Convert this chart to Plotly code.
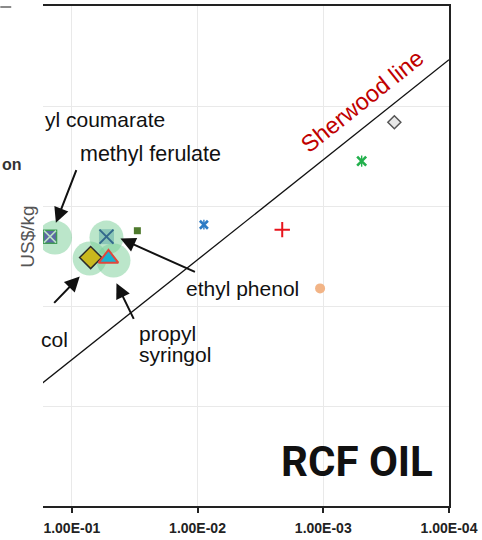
import plotly.graph_objects as go

# Product concentration in RCF oil (mass fraction) vs. market price (US$/kg)
compounds = ["methyl ferulate", "ethyl phenol", "propyl guaiacol", "propyl syringol",
             "compound 5", "compound 6", "compound 7", "compound 8",
             "compound 9", "compound 10"]
concentration = [0.149, 0.053, 0.0708, 0.0511, 0.0301, 0.0089, 0.00212, 0.00106, 0.000495, 0.000272]
price = [49.4, 49.4, 30.5, 29.9, 56.6, 65.0, 58.0, 15.0, 281.0, 687.0]

# Highlight circles around the major monomers
halo_conc = [0.136, 0.053, 0.0721, 0.0466]
halo_price = [48.3, 48.3, 29.9, 28.5]

# Sherwood line: price = k / concentration
sherwood_k = 0.29
sherwood_conc = [1.0, 1e-4]

tick_vals = [1e-1, 1e-2, 1e-3, 1e-4]
tick_text = ["1.00E-01", "1.00E-02", "1.00E-03", "1.00E-04"]

FONT = "Liberation Sans, Arial, Helvetica, sans-serif"

# Plot-area geometry in pixels
W, H = 482, 540
L, R, T, B = 43, 452, 4, 507


def px(x):
    return (x - L) / (R - L)


def py(y):
    return (B - y) / (B - T)


def star(color, size):
    return [dict(symbol="x-thin-open", size=size, color=color, line=dict(color=color, width=2.6)),
            dict(symbol="line-ns-open", size=size - 1, color=color, line=dict(color=color, width=1.4))]


styles = [
    [dict(symbol="square", size=13, color="#5d68a6", line=dict(color="#3f9a55", width=1.5)),
     dict(symbol="x-thin", size=12, color="#b9e4c3", line=dict(color="#b9e4c3", width=1.5))],
    [dict(symbol="square", size=15, color="rgba(80,160,160,0.45)", line=dict(width=0)),
     dict(symbol="x-thin", size=14, color="#33698c", line=dict(color="#33698c", width=2))],
    [dict(symbol="diamond", size=17, color="#c9b81e", line=dict(color="#2b2b2b", width=1.5))],
    [dict(symbol="triangle-up", size=17, color="#19b2cf", line=dict(color="#e0473c", width=2))],
    [dict(symbol="square", size=7, color="#4e7a2d", line=dict(width=0))],
    star("#2d7bc4", 8),
    [dict(symbol="cross-thin-open", size=11, color="#e8141c", line=dict(color="#e8141c", width=2))],
    [dict(symbol="circle", size=10, color="#f2b486", line=dict(width=0))],
    star("#22b04c", 9),
    [dict(symbol="diamond", size=10, color="#e8e8e8", line=dict(color="#555555", width=1.5))],
]

fig = go.Figure()

fig.add_trace(go.Scatter(
    x=halo_conc, y=halo_price, mode="markers",
    marker=dict(symbol="circle", size=34, color="rgba(120,205,150,0.5)", line=dict(width=0)),
    hoverinfo="skip", showlegend=False))

fig.add_trace(go.Scatter(
    x=sherwood_conc, y=[sherwood_k / c for c in sherwood_conc], mode="lines",
    line=dict(color="#111111", width=1.3), hoverinfo="skip", showlegend=False))

for name, c, p, marks in zip(compounds, concentration, price, styles):
    for m in marks:
        fig.add_trace(go.Scatter(x=[c], y=[p], mode="markers", name=name,
                                 marker=m, showlegend=False))

annotations = []


def label(text, x, y, size=21, color="#111111", xanchor="left", **kw):
    annotations.append(dict(text=text, x=px(x), y=py(y), xref="paper", yref="paper",
                            xanchor=xanchor, yanchor="middle", showarrow=False,
                            font=dict(family=FONT, size=size, color=color), **kw))


def arrow(head, tail):
    annotations.append(dict(text="", x=px(head[0]), y=py(head[1]), xref="paper", yref="paper",
                            ax=tail[0] - head[0], ay=tail[1] - head[1],
                            showarrow=True, arrowhead=2, arrowsize=1.5, arrowwidth=2,
                            arrowcolor="#111111", standoff=0, startstandoff=0))


label("yl coumarate", 43, 118)
label("methyl ferulate", 78, 153, size=21.5)
label("ethyl phenol", 185, 288)
label("propyl", 138, 333)
label("syringol", 138, 355)
label("col", 39, 340)
label("<b>on</b>", 0, 163, size=16, color="#333333")
label("US$/kg", 27, 236, size=19, color="#555555", xanchor="center", textangle=-90)
label("Sherwood line", 365, 100, size=23.5, color="#c00000", xanchor="center", textangle=-38.5)
annotations.append(dict(text="<b>RCF OIL</b>", x=px(438), y=py(462), xref="paper", yref="paper",
                        xanchor="right", yanchor="middle", showarrow=False,
                        font=dict(family="Roboto, " + FONT, size=42, color="#111111")))

arrow((56, 222), (77, 168))
arrow((121, 238), (197, 272))
arrow((117, 283), (135, 320))
arrow((80, 276), (53, 304))

shapes = [
    # blank strip left of the plot area where the highlight circle is cut off
    dict(type="rect", xref="paper", yref="paper", x0=px(28), x1=px(42.5), y0=py(258), y1=py(214),
         fillcolor="white", line=dict(width=0), layer="above"),
    dict(type="line", xref="paper", yref="paper", x0=px(0), x1=px(11), y0=py(5), y1=py(5),
         line=dict(color="#8a8a8a", width=2), layer="above"),
]

fig.update_layout(
    width=W, height=H,
    margin=dict(l=L, r=W - R, t=T, b=H - B, pad=0),
    paper_bgcolor="white", plot_bgcolor="white",
    showlegend=False,
    annotations=annotations,
    shapes=shapes,
    font=dict(family=FONT),
    xaxis=dict(type="log", range=[-0.771, -4], tickvals=tick_vals, ticktext=tick_text,
               tickfont=dict(family=FONT, size=14, color="#222222", weight="bold"),
               ticks="outside", ticklen=5, tickwidth=2, tickcolor="#222222",
               ticklabelstandoff=3,
               showline=True, mirror=True, linecolor="#222222", linewidth=2,
               showgrid=True, gridcolor="#e9e9e9", gridwidth=1, zeroline=False),
    yaxis=dict(type="log", range=[-1, 4], dtick=1, side="right",
               showticklabels=False, ticks="",
               showline=True, linecolor="#222222", linewidth=2,
               showgrid=True, gridcolor="#e9e9e9", gridwidth=1, zeroline=False),
)

fig.write_html("out.html")
